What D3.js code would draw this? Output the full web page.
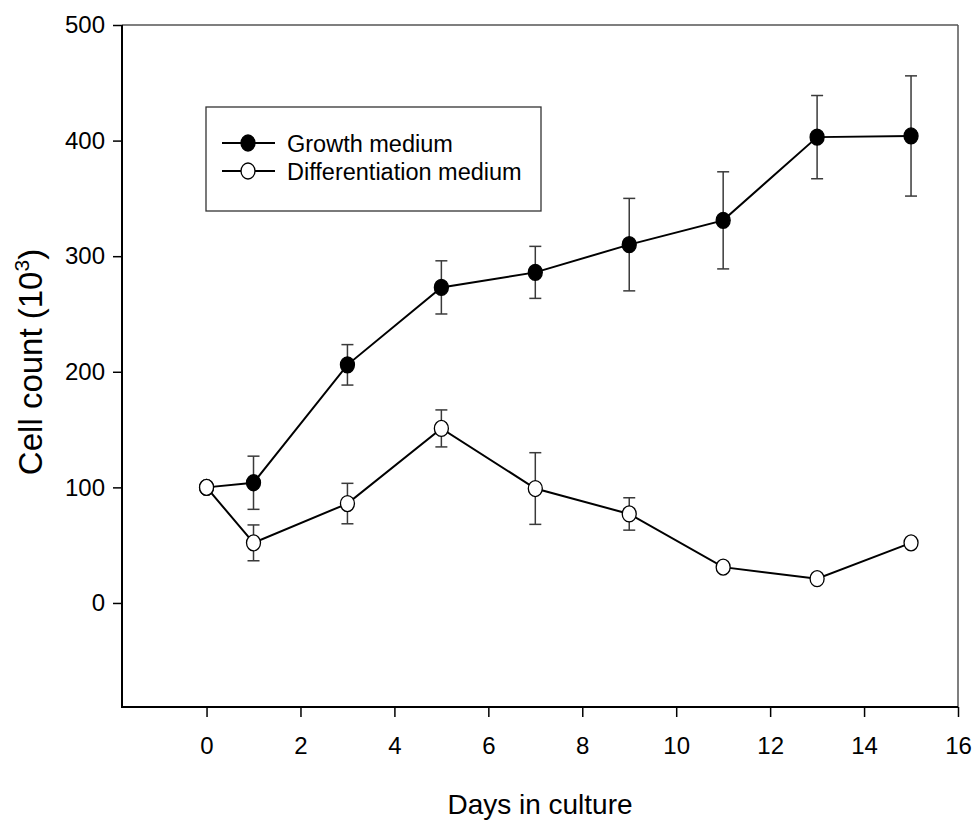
<!DOCTYPE html>
<html>
<head>
<meta charset="utf-8">
<script src="https://cdn.jsdelivr.net/npm/d3@7"></script>
<style>
  body { margin: 0; background: #fff; }
  text { font-family: "Liberation Sans", Arial, sans-serif; fill: #000; }
</style>
</head>
<body>
<div id="chart"></div>
<script>
// data
const growthDays = [0, 1, 3, 5, 7, 9, 11, 13, 15];
const growthValues = [100, 104, 206, 273, 286, 310, 331, 403, 404];
const growthErr = [0, 23, 17.5, 23, 22.5, 40, 42, 36, 52];

const diffDays = [0, 1, 3, 5, 7, 9, 11, 13, 15];
const diffValues = [100, 52, 86, 151, 99, 77, 31, 21, 52];
const diffErr = [0, 15.5, 17.5, 16, 31, 14, 0, 0, 0];

const xTicks = [0, 2, 4, 6, 8, 10, 12, 14, 16];
const yTicks = [0, 100, 200, 300, 400, 500];

const W = 976, H = 821;
const margin = { left: 122, top: 25, right: 18, bottom: 114 };
const width = W - margin.left - margin.right;
const height = H - margin.top - margin.bottom;

const svg = d3.select('#chart').append('svg')
  .attr('width', W)
  .attr('height', H);

const g = svg.append('g')
  .attr('transform', `translate(${margin.left},${margin.top})`);

const x = d3.scaleLinear().domain([-1.8, 16]).range([0, width]);
const y = d3.scaleLinear().domain([-90, 500]).range([height, 0]);

// axes
const xAxis = g.append('g')
  .attr('transform', `translate(0,${height})`)
  .call(d3.axisBottom(x).tickValues(xTicks).tickSize(10).tickSizeOuter(0).tickPadding(20));
const yAxis = g.append('g')
  .call(d3.axisLeft(y).tickValues(yTicks).tickSize(9).tickSizeOuter(0).tickPadding(8));

[xAxis, yAxis].forEach(a => {
  a.select('.domain').remove();
  a.selectAll('.tick line').attr('stroke', '#000').attr('stroke-width', 1.5);
  a.selectAll('.tick text')
    .style('font-size', '24px')
    .style('font-family', '"Liberation Sans", Arial, sans-serif')
    .attr('fill', '#000');
});

// frame
g.append('line').attr('x1', 0).attr('x2', width).attr('y1', 0).attr('y2', 0)
  .attr('stroke', '#555').attr('stroke-width', 1.5);
g.append('line').attr('x1', width).attr('x2', width).attr('y1', 0).attr('y2', height)
  .attr('stroke', '#555').attr('stroke-width', 1.5);
g.append('line').attr('x1', 0).attr('x2', 0).attr('y1', 0).attr('y2', height + 1)
  .attr('stroke', '#000').attr('stroke-width', 2);
g.append('line').attr('x1', 0).attr('x2', width).attr('y1', height).attr('y2', height)
  .attr('stroke', '#000').attr('stroke-width', 2);

// axis titles
svg.append('text')
  .attr('x', margin.left + width / 2)
  .attr('y', 814)
  .attr('text-anchor', 'middle')
  .style('font-size', '28px')
  .text('Days in culture');

const yTitle = svg.append('text')
  .attr('transform', 'translate(42,362) rotate(-90)')
  .attr('text-anchor', 'middle')
  .style('font-size', '33px');
yTitle.append('tspan').text('Cell count (10');
yTitle.append('tspan').attr('dy', -13).style('font-size', '21px').text('3');
yTitle.append('tspan').attr('dy', 13).text(')');

const line = d3.line().x(d => x(d.day)).y(d => y(d.value));

function drawSeries(days, values, errs, fill, r) {
  const data = days.map((d, i) => ({ day: d, value: values[i], err: errs[i] }));

  const bars = g.append('g').selectAll('g')
    .data(data.filter(d => d.err > 0))
    .enter().append('g')
    .attr('stroke', '#3a3a3a')
    .attr('stroke-width', 1.5);
  bars.append('line')
    .attr('x1', d => x(d.day)).attr('x2', d => x(d.day))
    .attr('y1', d => y(d.value + d.err)).attr('y2', d => y(d.value - d.err));
  bars.append('line')
    .attr('x1', d => x(d.day) - 6).attr('x2', d => x(d.day) + 6)
    .attr('y1', d => y(d.value + d.err)).attr('y2', d => y(d.value + d.err));
  bars.append('line')
    .attr('x1', d => x(d.day) - 6).attr('x2', d => x(d.day) + 6)
    .attr('y1', d => y(d.value - d.err)).attr('y2', d => y(d.value - d.err));

  g.append('path')
    .datum(data)
    .attr('d', line)
    .attr('fill', 'none')
    .attr('stroke', '#000')
    .attr('stroke-width', 2);

  g.append('g').selectAll('ellipse')
    .data(data)
    .enter().append('ellipse')
    .attr('cx', d => x(d.day))
    .attr('cy', d => y(d.value))
    .attr('rx', r)
    .attr('ry', r + 1)
    .attr('fill', fill)
    .attr('stroke', '#000')
    .attr('stroke-width', 1.3);
}

drawSeries(growthDays, growthValues, growthErr, '#000', 7);
drawSeries(diffDays, diffValues, diffErr, '#fff', 7);

// legend
const legend = svg.append('g');
legend.append('rect')
  .attr('x', 206).attr('y', 107)
  .attr('width', 335).attr('height', 104)
  .attr('fill', 'none')
  .attr('stroke', '#333')
  .attr('stroke-width', 1.3);

const legendItems = [
  { label: 'Growth medium', fill: '#000', cy: 143 },
  { label: 'Differentiation medium', fill: '#fff', cy: 171 },
];
const li = legend.selectAll('.legend')
  .data(legendItems)
  .enter().append('g')
  .attr('class', 'legend')
  .attr('transform', d => `translate(0,${d.cy})`);
li.append('line')
  .attr('x1', 222).attr('x2', 275)
  .attr('stroke', '#000').attr('stroke-width', 2);
li.append('ellipse')
  .attr('cx', 248).attr('rx', 7).attr('ry', 8)
  .attr('fill', d => d.fill)
  .attr('stroke', '#000').attr('stroke-width', 1.3);
li.append('text')
  .attr('x', 287).attr('y', 8.5)
  .style('font-size', '23.5px')
  .text(d => d.label);
</script>
</body>
</html>
